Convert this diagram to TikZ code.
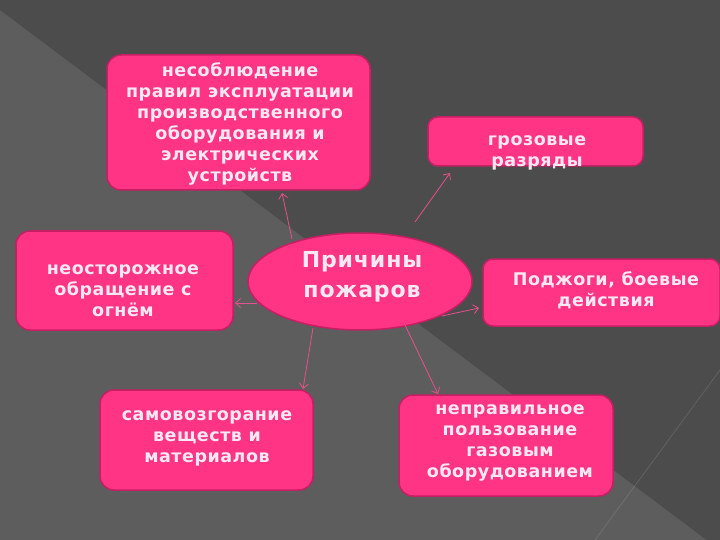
\documentclass[tikz,border=0pt]{standalone}
\usepackage{fontspec}
\setmainfont{DejaVu Sans}
\usetikzlibrary{arrows.meta,shapes.geometric}
\definecolor{bgdark}{RGB}{76,76,76}
\definecolor{bglight}{RGB}{93,93,93}
\definecolor{boxpink}{RGB}{255,52,133}
\definecolor{boxedge}{RGB}{200,30,100}
\definecolor{txtpink}{RGB}{250,232,242}
\definecolor{arrpink}{RGB}{230,80,140}
\tikzset{
  causebox/.style={draw=boxedge, line width=1.5pt, fill=boxpink, rounded corners=14pt, inner sep=0pt},
  boxtext/.style={text=txtpink, align=center, inner sep=0pt,
     font=\fontsize{17.5}{21}\selectfont\bfseries\addfontfeatures{LetterSpace=3}},
  bigtext/.style={text=txtpink, align=center, inner sep=0pt,
     font=\fontsize{22}{30}\selectfont\bfseries\addfontfeatures{LetterSpace=4}},
  link/.style={draw=arrpink, line width=0.8pt, -{Straight Barb[length=5pt,width=9pt]}}
}
\begin{document}
\begin{tikzpicture}[x=1pt,y=-1pt]
\useasboundingbox (0,0) rectangle (720,540);
% background
\fill[bglight] (0,0) rectangle (720,540);
\fill[bgdark] (0,10) -- (0,0) -- (720,0) -- (720,550) -- cycle;
\draw[white,opacity=0.12,line width=0.8pt] (720,370) -- (595,540);
% central ellipse
\node[ellipse, draw=boxedge, line width=1.5pt, fill=boxpink, minimum width=224pt, minimum height=97pt, inner sep=0pt] (e) at (360,281.5) {};
\node[bigtext] (et) at (362,277) {Причины\\пожаров};
% boxes
\node[causebox, minimum width=263pt, minimum height=135pt] (b1) at (238.5,122.5) {};
\node[boxtext] (b1t) at (240,124) {несоблюдение\\правил эксплуатации\\производственного\\оборудования и\\электрических\\устройств};
\node[causebox, minimum width=215pt, minimum height=49pt, rounded corners=10pt] (b2) at (535.5,141.5) {};
\node[boxtext] (b2t) at (537,153) {грозовые\\разряды};
\node[causebox, minimum width=217pt, minimum height=99pt] (b3) at (124.5,280.5) {};
\node[boxtext] (b3t) at (123,291) {неосторожное\\обращение с\\огнём};
\node[causebox, minimum width=237pt, minimum height=67pt, rounded corners=10pt] (b4) at (601.5,292.5) {};
\node[boxtext] (b4t) at (606,290) {Поджоги, боевые\\действия};
\node[causebox, minimum width=213pt, minimum height=100pt] (b5) at (206.5,440) {};
\node[boxtext] (b5t) at (207,438) {самовозгорание\\веществ и\\материалов};
\node[causebox, minimum width=214pt, minimum height=101pt] (b6) at (506,445.5) {};
\node[boxtext] (b6t) at (510,442.5) {неправильное\\пользование\\газовым\\оборудованием};
% connectors
\coordinate (s1) at (292,239); \coordinate (t1) at (282,193);
\coordinate (s2) at (415,222); \coordinate (t2) at (450,173);
\coordinate (s3) at (257,303); \coordinate (t3) at (235,303);
\coordinate (s4) at (442,316); \coordinate (t4) at (479,308);
\coordinate (s5) at (313,328); \coordinate (t5) at (303,389);
\coordinate (s6) at (405,325); \coordinate (t6) at (438,394);
\draw[link] (s1) -- (t1);
\draw[link] (s2) -- (t2);
\draw[link] (s3) -- (t3);
\draw[link] (s4) -- (t4);
\draw[link] (s5) -- (t5);
\draw[link] (s6) -- (t6);
\end{tikzpicture}
\end{document}
